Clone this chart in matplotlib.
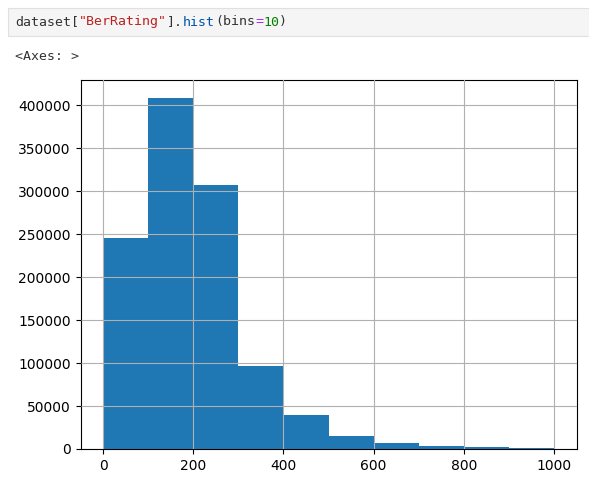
import matplotlib
matplotlib.use("Agg")
import matplotlib.pyplot as plt
from matplotlib.patches import Rectangle

bin_edges = [0, 100, 200, 300, 400, 500, 600, 700, 800, 900, 1000]
counts = [245000, 409000, 307000, 97000, 39000, 15000, 7000, 4000, 2500, 1500]

W, H = 589, 483
fig = plt.figure(figsize=(W/100, H/100), dpi=100)
fig.patches.append(Rectangle((8/W, 1-36/H), 581/W, 28/H, transform=fig.transFigure,
                             facecolor="#f5f5f5", edgecolor="#e0e0e0", lw=0.8))
x0, y0 = 15/W, 1-22/H
parts = [("dataset[", "#333333"), ('"BerRating"', "#ba2121"), ("].", "#333333"),
         ("hist", "#0055aa"), ("(bins", "#333333"), ("=", "#aa22ff"), ("10", "#008000"), (")", "#333333")]
r = fig.canvas.get_renderer()
x = x0
for s, c in parts:
    t = fig.text(x, y0, s, color=c, family="DejaVu Sans Mono", fontsize=9.5, va="center")
    bb = t.get_window_extent(renderer=r)
    x += bb.width / W
fig.text(15/W, 1-56/H, "<Axes: >", family="DejaVu Sans Mono", fontsize=9.5, va="center", color="#333333")

ax = fig.add_axes([80.5/W, 1-449/H, 496/W, 369/H])
ax.hist(bin_edges[:-1], bins=bin_edges, weights=counts, color="#1f77b4")
ax.grid(True)
ax.set_axisbelow(False)
ax.set_ylim(0, max(counts)*1.05)
fig.savefig("out.png", dpi=100)
